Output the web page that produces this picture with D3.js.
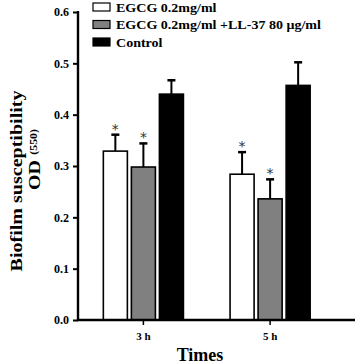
<!DOCTYPE html>
<html><head><meta charset="utf-8">
<script src="https://cdn.jsdelivr.net/npm/d3@7"></script>
<style>body{margin:0;background:#fff}svg text{font-family:"Liberation Serif","Times New Roman",serif;font-weight:bold}</style>
</head><body>
<svg id="c" width="355" height="364"></svg>
<script>
const times = ["3 h", "5 h"];
const seriesNames = ["EGCG 0.2mg/ml", "EGCG 0.2mg/ml +LL-37 80 μg/ml", "Control"];
const seriesColors = ["#ffffff", "#808080", "#000000"];
const egcg = [0.329, 0.284];
const egcgErr = [0.032, 0.043];
const egcgLL = [0.298, 0.236];
const egcgLLErr = [0.046, 0.038];
const control = [0.440, 0.457];
const controlErr = [0.027, 0.045];
const significant = [[true, true], [true, true], [false, false]];
const yTicks = [0.0, 0.1, 0.2, 0.3, 0.4, 0.5, 0.6];

const values = [egcg, egcgLL, control];
const errs = [egcgErr, egcgLLErr, controlErr];

const svg = d3.select("#c");
const y = d3.scaleLinear().domain([0, 0.6]).range([320, 12]);
const x0 = d3.scaleBand().domain(times).range([78, 335.5]).paddingInner(0.368).paddingOuter(0.2);
const x1 = d3.scaleBand().domain(d3.range(3)).range([0, x0.bandwidth()]).paddingInner(0.143);

const g = svg.append("g");
times.forEach((t, ti) => {
  values.forEach((vals, si) => {
    const bx = x0(t) + x1(si);
    const bw = x1.bandwidth();
    const v = vals[ti], e = errs[si][ti];
    const cx = bx + bw / 2;
    g.append("line").attr("x1", cx).attr("x2", cx).attr("y1", y(v)).attr("y2", y(v + e))
      .attr("stroke", "#000").attr("stroke-width", 2);
    g.append("line").attr("x1", cx - 4).attr("x2", cx + 4).attr("y1", y(v + e)).attr("y2", y(v + e))
      .attr("stroke", "#000").attr("stroke-width", 2.5);
    g.append("rect").attr("x", bx).attr("y", y(v)).attr("width", bw).attr("height", y(0) - y(v))
      .attr("fill", seriesColors[si]).attr("stroke", "#000").attr("stroke-width", 1.6);
    if (significant[si][ti]) {
      g.append("text").attr("transform", `translate(${cx},${y(v + e) - 1}) rotate(0.01)`).attr("text-anchor", "middle")
        .attr("font-size", 14).style("font-weight", "normal").attr("fill", "#333")
        .style("font-family", "DejaVu Sans").text("*");
    }
  });
});

// y axis
const yAxis = d3.axisLeft(y).tickValues(yTicks).tickFormat(d3.format(".1f")).tickSize(5).tickPadding(4);
const ya = svg.append("g").attr("transform", "translate(78,0)").call(yAxis);
ya.select(".domain").attr("stroke-width", 2.4).attr("d", "M0,11V321");
ya.selectAll(".tick line").attr("stroke-width", 2);
ya.selectAll(".tick text").attr("font-size", 12).attr("fill", "#000").style("font-family", "Liberation Serif").style("font-weight", "bold");

// x axis
const xAxis = d3.axisBottom(x0).tickSize(5).tickPadding(7);
const xa = svg.append("g").attr("transform", "translate(0,320)").call(xAxis);
xa.select(".domain").attr("stroke-width", 2.4).attr("d", "M77,0H355");
xa.selectAll(".tick line").attr("stroke-width", 1.5);
xa.selectAll(".tick text").attr("font-size", 11).attr("fill", "#000").style("font-family", "Liberation Serif").style("font-weight", "bold");

// titles
svg.append("text").attr("transform", "translate(22,181) rotate(-90) scale(1.18,1)").attr("text-anchor", "middle")
  .attr("font-size", 17).text("Biofilm susceptibility");
const od = svg.append("text").attr("transform", "translate(40,190) rotate(-90) scale(1.18,1)").attr("text-anchor", "start")
  .attr("font-size", 17);
od.append("tspan").text("OD");
od.append("tspan").attr("font-size", 10).attr("dx", 2).attr("dy", -3).text(" (550)");
svg.append("text").attr("x", 200).attr("y", 361).attr("text-anchor", "middle").attr("font-size", 18).text("Times");

// legend
const lg = svg.append("g");
seriesNames.forEach((n, i) => {
  const yy = 7 + i * 17.5;
  lg.append("rect").attr("x", 93).attr("y", yy - 4).attr("width", 17).attr("height", 8)
    .attr("fill", seriesColors[i]).attr("stroke", "#000").attr("stroke-width", 1.2);
  lg.append("text").attr("transform", `translate(116,${yy + 4.5}) scale(1.08,1)`).attr("font-size", 13).text(n);
});
</script>
</body></html>
